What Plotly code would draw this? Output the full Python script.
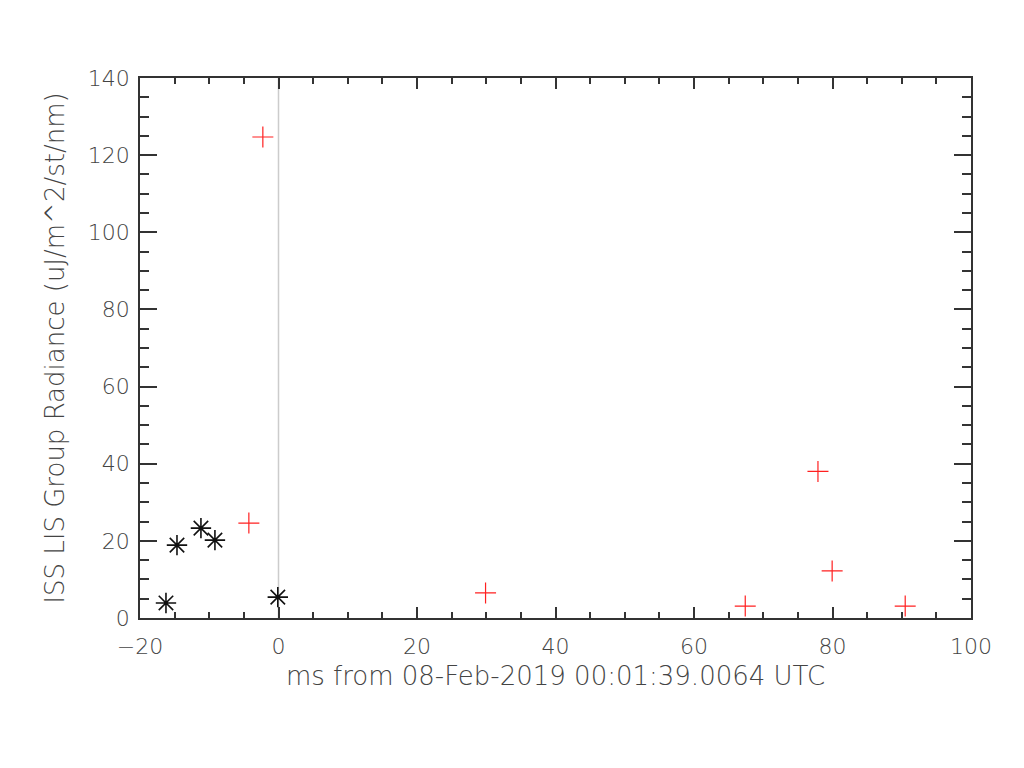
import plotly.graph_objects as go

black_x = [-16.25, -14.66, -11.2, -9.18, -0.1]
black_y = [3.9, 18.9, 23.3, 20.2, 5.4]

red_x = [-2.26, -4.28, 29.9, 67.4, 77.9, 79.95, 90.5]
red_y = [124.7, 24.6, 6.5, 3.1, 38.0, 12.2, 3.1]

x_title = "ms from 08-Feb-2019 00:01:39.0064 UTC"
y_title = "ISS LIS Group Radiance (uJ/m^2/st/nm)"

fig = go.Figure()
fig.add_trace(go.Scatter(x=[0, 0], y=[0, 140], mode="lines",
                         line=dict(color="#cccccc", width=1.5), hoverinfo="skip"))
fig.add_trace(go.Scatter(x=black_x, y=black_y, mode="markers",
                         marker=dict(symbol="asterisk-open", size=17, color="#111111",
                                     line=dict(color="#111111", width=1.6))))
fig.add_trace(go.Scatter(x=red_x, y=red_y, mode="markers",
                         marker=dict(symbol="cross-thin-open", size=15, color="#ff2020",
                                     line=dict(color="#ff2020", width=1.2))))

font = dict(family="DejaVu Sans", size=22, color="#444444", weight=300)
fig.update_layout(
    width=1024, height=768,
    margin=dict(l=132, r=61, t=70, b=158),
    plot_bgcolor="white", paper_bgcolor="white",
    showlegend=False,
    font=font,
)
fig.update_xaxes(range=[-20, 100], dtick=20, tick0=0, ticks="inside", ticklen=11,
                 tickwidth=1.5, tickcolor="#333333", mirror="allticks",
                 showline=True, linecolor="#333333", linewidth=1.5,
                 showgrid=False, zeroline=False, automargin=False,
                 ticklabelstandoff=8,
                 minor=dict(dtick=5, ticks="inside", ticklen=6, tickcolor="#333333", tickwidth=1.5),
                 title=dict(text=x_title, standoff=9), tickfont=font)
fig.update_yaxes(range=[0, 140], dtick=20, ticks="inside", ticklen=17,
                 tickwidth=1.5, tickcolor="#333333", mirror="allticks",
                 showline=True, linecolor="#333333", linewidth=1.5,
                 showgrid=False, zeroline=False, automargin=False,
                 ticklabelstandoff=4,
                 minor=dict(dtick=5, ticks="inside", ticklen=9, tickcolor="#333333", tickwidth=1.5),
                 title=dict(text=y_title, standoff=16), tickfont=font)

fig.write_html("out.html")
